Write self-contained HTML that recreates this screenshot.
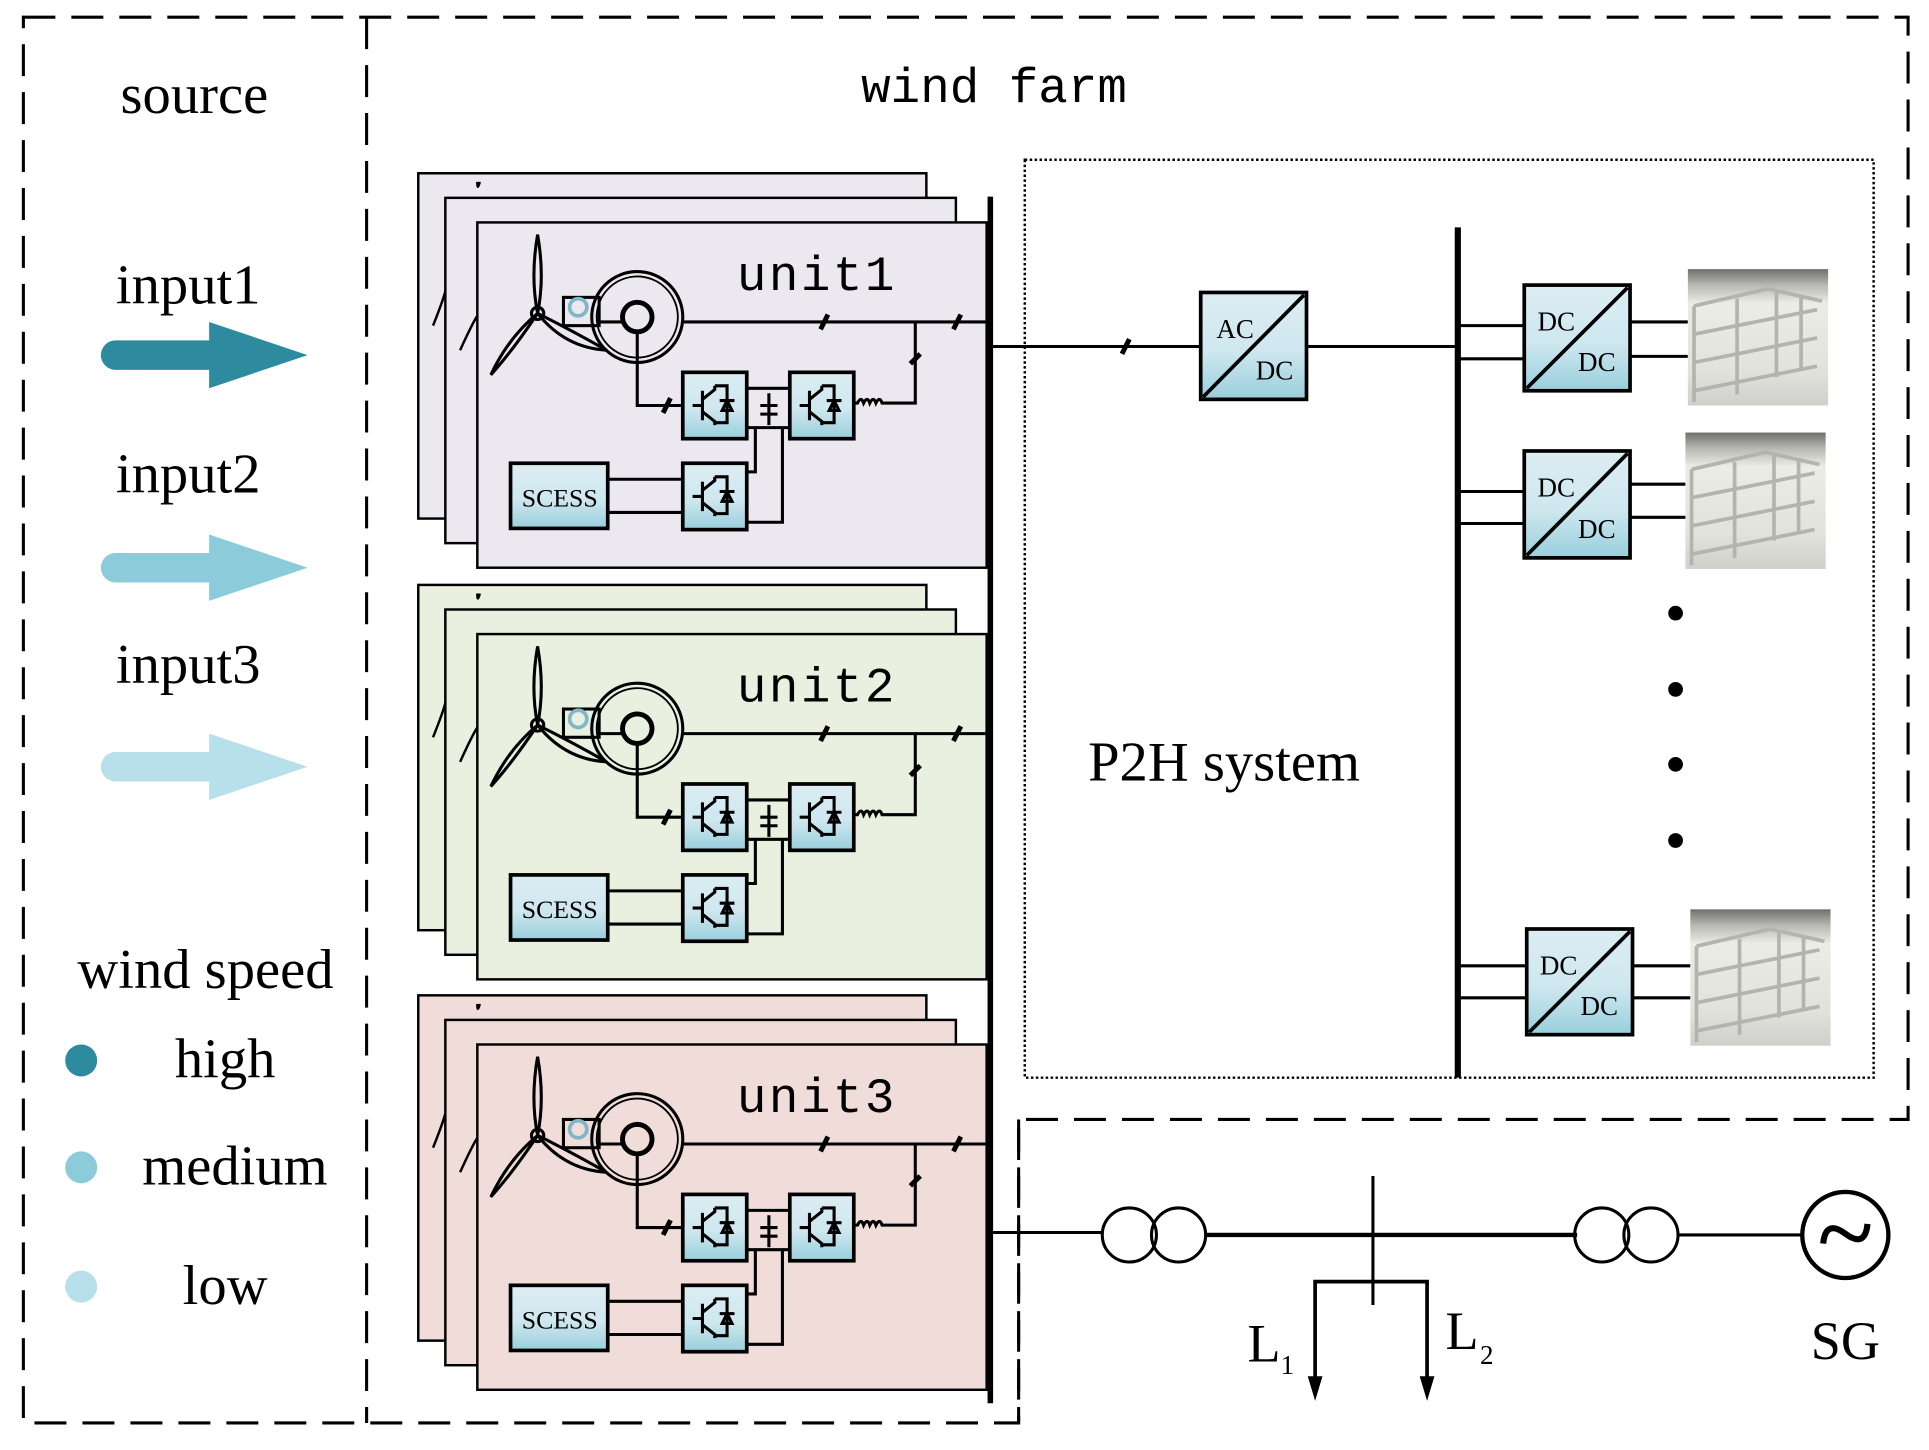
<!DOCTYPE html>
<html><head><meta charset="utf-8"><style>html,body{margin:0;padding:0;background:#fff;}svg{display:block}</style></head><body>
<svg width="1929" height="1450" viewBox="0 0 1568 1180" preserveAspectRatio="none" xmlns="http://www.w3.org/2000/svg" font-family="Liberation Serif, serif">
<defs>
<linearGradient id="bx" x1="0" y1="0" x2="0" y2="1"><stop offset="0" stop-color="#dcedf3"/><stop offset="0.55" stop-color="#cfe7ef"/><stop offset="1" stop-color="#98cfdc"/></linearGradient>
<linearGradient id="tk" x1="0" y1="0" x2="0" y2="1"><stop offset="0" stop-color="#6f706c"/><stop offset="0.12" stop-color="#b9bab4"/><stop offset="0.25" stop-color="#ececE6"/><stop offset="0.75" stop-color="#e2e2dc"/><stop offset="1" stop-color="#cfcfcb"/></linearGradient>
<g id="conv"><rect x="0" y="0" width="52" height="54" fill="url(#bx)" stroke="#000" stroke-width="3"/>
<path d="M8 27h8M16 15v24M16 22l10-8v-3M16 32l10 8v3M26 11h10v30h-10M30 23h12M32 31l4-8 4 8z" fill="none" stroke="#000" stroke-width="2.5"/></g>
<g id="tank"><rect width="114" height="111" fill="url(#tk)"/>
<path d="M5 30l60-14 44 10M5 30v78M5 53l100-20M5 76l100-20M5 99l100-20M40 24v78M72 18v70M92 22v60" stroke="#b4b4ae" stroke-width="3" fill="none"/></g>
<g id="unit">
<rect x="340" y="141" width="413" height="281" stroke="#000" stroke-width="2"/>
<rect x="362" y="161" width="415" height="281" stroke="#000" stroke-width="2"/>
<rect x="388" y="181" width="414" height="281" stroke="#000" stroke-width="2"/>
<path d="M352 265q8-20 10-28M374 285q10-22 14-28M388 148q0 8 2 0" fill="none" stroke="#000" stroke-width="2"/>
<g fill="none" stroke="#000" stroke-width="2.5">
<path d="M437 255q-6-30 0-64q6 34 0 64z"/>
<path d="M437 255q-20 30-38 50q14-30 38-50z"/>
<path d="M437 255q30 15 56 30q-34-2-56-30z"/>
<circle cx="437" cy="255" r="5"/>
<rect x="458" y="242" width="29" height="23"/>
<circle cx="470" cy="250" r="7" stroke="#7fb7c8" stroke-width="3"/>
<path d="M487 262h20"/>
<circle cx="518" cy="258" r="37"/><circle cx="518" cy="258" r="33" stroke-width="1.5"/>
<circle cx="518" cy="258" r="12" stroke-width="4"/>
<path d="M555 262h247M518 270v60h37M607 316h35M607 348h35M625 320v26M618 330h14M618 337h14M694 328h3q3-6 5 0q3-6 5 0q3-6 5 0q3-6 5 0h27v-66M494 390h61M494 417h61M607 384h7v-36M607 425h29v-77"/>
</g>
<path d="M667 268l6-12M775 268l6-12M740 296l8-8M539 336l6-12" stroke="#000" stroke-width="4"/>
<use href="#conv" x="555" y="303"/><use href="#conv" x="642" y="303"/><use href="#conv" x="555" y="377"/>
<rect x="415" y="377" width="79" height="53" fill="url(#bx)" stroke="#000" stroke-width="3"/>
<text x="455" y="412" font-size="21" text-anchor="middle" fill="#000">SCESS</text>
</g>
</defs>
<rect width="1568" height="1180" fill="#fff"/>
<g fill="none" stroke="#000" stroke-width="2.5" stroke-dasharray="26 13">
<path d="M19 14H1551V911H828V1158H19Z"/><path d="M298 14V1158"/><path d="M828 911V1158"/>
</g>
<rect x="833" y="130" width="690" height="747" fill="none" stroke="#000" stroke-width="2" stroke-dasharray="2 2"/>
<text x="158" y="92" font-size="46" text-anchor="middle">source</text>
<text x="153" y="247" font-size="46" text-anchor="middle">input1</text>
<text x="153" y="401" font-size="46" text-anchor="middle">input2</text>
<text x="153" y="556" font-size="46" text-anchor="middle">input3</text>
<g><path d="M94 289H172" stroke="#2e8a9e" stroke-width="24" stroke-linecap="round"/><path d="M170 262L250 289L170 316Z" fill="#2e8a9e"/></g>
<g><path d="M94 462H172" stroke="#8ccbd9" stroke-width="24" stroke-linecap="round"/><path d="M170 435L250 462L170 489Z" fill="#8ccbd9"/></g>
<g><path d="M94 624H172" stroke="#b8e0ea" stroke-width="24" stroke-linecap="round"/><path d="M170 597L250 624L170 651Z" fill="#b8e0ea"/></g>
<text x="167" y="804" font-size="46" text-anchor="middle">wind speed</text>
<circle cx="66" cy="863" r="13" fill="#2e8a9e"/><circle cx="66" cy="950" r="13" fill="#8ccbd9"/><circle cx="66" cy="1047" r="13" fill="#b8e0ea"/>
<text x="183" y="877" font-size="46" text-anchor="middle">high</text>
<text x="191" y="964" font-size="46" text-anchor="middle">medium</text>
<text x="183" y="1061" font-size="46" text-anchor="middle">low</text>
<text x="808" y="83" font-size="40" text-anchor="middle" font-family="Liberation Mono, monospace">wind farm</text>
<g fill="#ece8f0"><use href="#unit"/></g>
<g fill="#eaf0df" transform="translate(0,335)"><use href="#unit"/></g>
<g fill="#f0dcd8" transform="translate(0,669)"><use href="#unit"/></g>
<g font-family="Liberation Mono, monospace" font-size="40" text-anchor="middle" letter-spacing="2">
<text x="664" y="236">unit1</text><text x="664" y="571">unit2</text><text x="664" y="905">unit3</text></g>
<path d="M805 160V1142" stroke="#000" stroke-width="4.5"/>
<path d="M805 282H976M1062 282H1185" stroke="#000" stroke-width="2.5" fill="none"/>
<path d="M912 288l6-12" stroke="#000" stroke-width="4"/>
<rect x="976" y="238" width="86" height="87" fill="url(#bx)" stroke="#000" stroke-width="3"/>
<path d="M978 323L1060 240" stroke="#000" stroke-width="3"/>
<text x="1004" y="275" font-size="22" text-anchor="middle">AC</text><text x="1036" y="309" font-size="22" text-anchor="middle">DC</text>
<path d="M1185 185V877" stroke="#000" stroke-width="5"/>
<g stroke="#000" stroke-width="2.5" fill="none">
<path d="M1185 265H1239M1185 292H1239M1325 262H1372M1325 290H1372"/>
<path d="M1185 400H1239M1185 426H1239M1325 394H1370M1325 421H1370"/>
<path d="M1185 786H1241M1185 812H1241M1327 786H1374M1327 812H1374"/>
</g>
<g font-size="22" text-anchor="middle">
<rect x="1239" y="232" width="86" height="86" fill="url(#bx)" stroke="#000" stroke-width="3"/><path d="M1241 316L1323 234" stroke="#000" stroke-width="3"/><text x="1265" y="269">DC</text><text x="1298" y="302">DC</text>
<rect x="1239" y="367" width="86" height="87" fill="url(#bx)" stroke="#000" stroke-width="3"/><path d="M1241 452L1323 369" stroke="#000" stroke-width="3"/><text x="1265" y="404">DC</text><text x="1298" y="438">DC</text>
<rect x="1241" y="756" width="86" height="86" fill="url(#bx)" stroke="#000" stroke-width="3"/><path d="M1243 840L1325 758" stroke="#000" stroke-width="3"/><text x="1267" y="793">DC</text><text x="1300" y="826">DC</text>
</g>
<use href="#tank" x="1372" y="219"/><use href="#tank" x="1370" y="352"/><use href="#tank" x="1374" y="740"/>
<circle cx="1362" cy="499" r="6"/><circle cx="1362" cy="561" r="6"/><circle cx="1362" cy="622" r="6"/><circle cx="1362" cy="684" r="6"/>
<text x="995" y="635" font-size="46" text-anchor="middle">P2H system</text>
<g stroke="#000" fill="none" stroke-width="2.5">
<path d="M805 1003H897"/><circle cx="918" cy="1005" r="22"/><circle cx="958" cy="1005" r="22"/>
<path d="M980 1005H1282" stroke-width="3.5"/><circle cx="1302" cy="1005" r="22"/><circle cx="1342" cy="1005" r="22"/>
<path d="M1364 1005H1465"/><circle cx="1500" cy="1005" r="35" stroke-width="3.5"/>
<path d="M1482 1012q2-20 18-8q16 12 18-8" stroke-width="5"/>
<path d="M1116 957V1062"/><path d="M1069 1122V1043H1160V1122" stroke-width="3"/>
</g>
<path d="M1063 1120h12l-6 20z M1154 1120h12l-6 20z"/>
<text x="1014" y="1108" font-size="44">L</text><text x="1041" y="1118" font-size="22">1</text>
<text x="1175" y="1098" font-size="44">L</text><text x="1203" y="1110" font-size="22">2</text>
<text x="1500" y="1106" font-size="44" text-anchor="middle">SG</text>
</svg>
</body></html>
